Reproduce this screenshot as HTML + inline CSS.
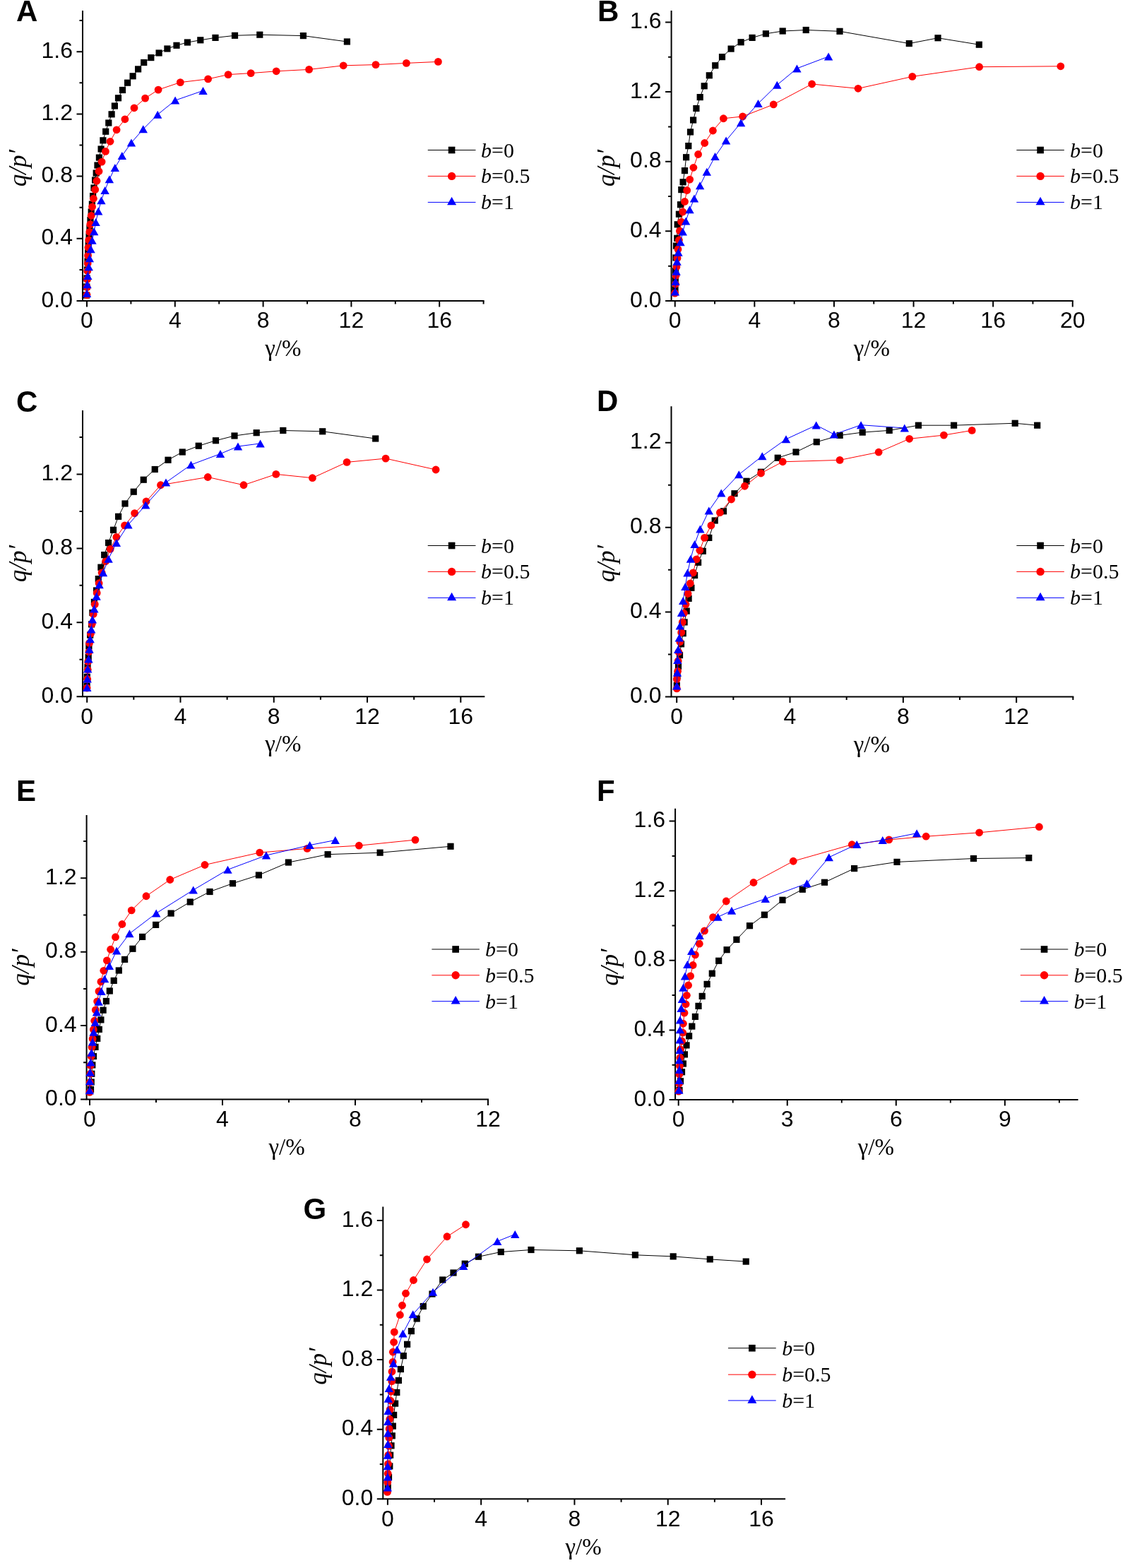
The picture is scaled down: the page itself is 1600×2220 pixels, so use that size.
<!DOCTYPE html>
<html><head><meta charset="utf-8"><title>q/p' vs shear strain</title>
<style>
html,body{margin:0;padding:0;background:#fff;}
svg{display:block;}
.tl text{font-family:"Liberation Sans",Arial,sans-serif;font-size:32px;fill:#000;}
.let{font-family:"Liberation Sans",Arial,sans-serif;font-weight:bold;font-size:42px;fill:#000;}
.yl{font-family:"Liberation Serif","Times New Roman",serif;font-style:italic;font-size:35px;fill:#000;}
.xl{font-family:"Liberation Serif","Times New Roman",serif;font-size:33px;fill:#000;}
.lg{font-family:"Liberation Serif","Times New Roman",serif;font-size:30px;fill:#000;}
</style></head>
<body>
<svg width="1600" height="2220" viewBox="0 0 1600 2220">
<rect width="1600" height="2220" fill="#fff"/>
<path d="M117 16V426H684.6" fill="none" stroke="#000" stroke-width="2" stroke-linecap="square"/>
<path d="M123 426v8.5M247.8 426v8.5M372.6 426v8.5M497.4 426v8.5M622.2 426v8.5M185.4 426v4.5M310.2 426v4.5M435 426v4.5M559.8 426v4.5M684.6 426v4.5M117 426h-8.5M117 337.8h-8.5M117 249.6h-8.5M117 161.4h-8.5M117 73.2h-8.5M117 381.9h-4.5M117 293.7h-4.5M117 205.5h-4.5M117 117.3h-4.5M117 29.1h-4.5" stroke="#000" stroke-width="2"/>
<g class="tl"><text x="123" y="464.3" text-anchor="middle">0</text><text x="247.8" y="464.3" text-anchor="middle">4</text><text x="372.6" y="464.3" text-anchor="middle">8</text><text x="497.4" y="464.3" text-anchor="middle">12</text><text x="622.2" y="464.3" text-anchor="middle">16</text><text x="103" y="434.6" text-anchor="end">0.0</text><text x="103" y="346.4" text-anchor="end">0.4</text><text x="103" y="258.2" text-anchor="end">0.8</text><text x="103" y="170" text-anchor="end">1.2</text><text x="103" y="81.8" text-anchor="end">1.6</text></g>
<text class="let" x="22.9" y="30">A</text>
<text class="yl" transform="translate(36.8 238) rotate(-90)" text-anchor="middle">q/p′</text>
<text class="xl" x="400.75" y="504.4" text-anchor="middle">γ/%</text>
<path d="M122.6 418L122.8 406L123.1 394L123.5 382L124 370L124.6 358L125.3 346L126.1 335L127 323L128 311.5L129.2 300L130.4 289L131.6 277.5L133 266L134.6 255L136.2 245L138 234L140.4 223.1L143.1 211L145.9 198.8L149.7 186.2L153.8 174L158.1 161.8L162.4 150L167.5 138.8L173.5 127.5L180.6 117.2L188.1 107.8L195.6 97.9L203.7 88.5L213.8 81.6L225.1 75L236.9 69L250 64.3L265.4 60L283.8 56.8L305 53.4L332.5 50.3L367.8 49.2L429.4 50.6L491.4 59" fill="none" stroke="#000000" stroke-width="1" stroke-linejoin="round"/>
<rect x="118" y="413.4" width="9.2" height="9.2" fill="#000000"/><rect x="118.2" y="401.4" width="9.2" height="9.2" fill="#000000"/><rect x="118.5" y="389.4" width="9.2" height="9.2" fill="#000000"/><rect x="118.9" y="377.4" width="9.2" height="9.2" fill="#000000"/><rect x="119.4" y="365.4" width="9.2" height="9.2" fill="#000000"/><rect x="120" y="353.4" width="9.2" height="9.2" fill="#000000"/><rect x="120.7" y="341.4" width="9.2" height="9.2" fill="#000000"/><rect x="121.5" y="330.4" width="9.2" height="9.2" fill="#000000"/><rect x="122.4" y="318.4" width="9.2" height="9.2" fill="#000000"/><rect x="123.4" y="306.9" width="9.2" height="9.2" fill="#000000"/><rect x="124.6" y="295.4" width="9.2" height="9.2" fill="#000000"/><rect x="125.8" y="284.4" width="9.2" height="9.2" fill="#000000"/><rect x="127" y="272.9" width="9.2" height="9.2" fill="#000000"/><rect x="128.4" y="261.4" width="9.2" height="9.2" fill="#000000"/><rect x="130" y="250.4" width="9.2" height="9.2" fill="#000000"/><rect x="131.6" y="240.4" width="9.2" height="9.2" fill="#000000"/><rect x="133.4" y="229.4" width="9.2" height="9.2" fill="#000000"/><rect x="135.8" y="218.5" width="9.2" height="9.2" fill="#000000"/><rect x="138.5" y="206.4" width="9.2" height="9.2" fill="#000000"/><rect x="141.3" y="194.2" width="9.2" height="9.2" fill="#000000"/><rect x="145.1" y="181.6" width="9.2" height="9.2" fill="#000000"/><rect x="149.2" y="169.4" width="9.2" height="9.2" fill="#000000"/><rect x="153.5" y="157.2" width="9.2" height="9.2" fill="#000000"/><rect x="157.8" y="145.4" width="9.2" height="9.2" fill="#000000"/><rect x="162.9" y="134.2" width="9.2" height="9.2" fill="#000000"/><rect x="168.9" y="122.9" width="9.2" height="9.2" fill="#000000"/><rect x="176" y="112.6" width="9.2" height="9.2" fill="#000000"/><rect x="183.5" y="103.2" width="9.2" height="9.2" fill="#000000"/><rect x="191" y="93.3" width="9.2" height="9.2" fill="#000000"/><rect x="199.1" y="83.9" width="9.2" height="9.2" fill="#000000"/><rect x="209.2" y="77" width="9.2" height="9.2" fill="#000000"/><rect x="220.5" y="70.4" width="9.2" height="9.2" fill="#000000"/><rect x="232.3" y="64.4" width="9.2" height="9.2" fill="#000000"/><rect x="245.4" y="59.7" width="9.2" height="9.2" fill="#000000"/><rect x="260.8" y="55.4" width="9.2" height="9.2" fill="#000000"/><rect x="279.2" y="52.2" width="9.2" height="9.2" fill="#000000"/><rect x="300.4" y="48.8" width="9.2" height="9.2" fill="#000000"/><rect x="327.9" y="45.7" width="9.2" height="9.2" fill="#000000"/><rect x="363.2" y="44.6" width="9.2" height="9.2" fill="#000000"/><rect x="424.8" y="46" width="9.2" height="9.2" fill="#000000"/><rect x="486.8" y="54.4" width="9.2" height="9.2" fill="#000000"/>
<path d="M123 417.6L123.2 406.8L123.5 395.4L123.8 383.5L124.2 373L124.5 361.9L124.9 350.5L125.7 340L126.8 328.4L127.8 317.6L129.25 305.3L130.6 292.8L132.4 281.25L134.7 268.4L137 256.25L140 242.5L144.1 229.1L149.4 214.4L156 200.3L165.1 183.8L176.9 168.8L190 152.8L205.6 139.1L224.1 127.1L255.3 116.6L294.6 111.9L323.1 105.6L355.2 103.6L391.2 100.8L437.6 98.4L486.2 92.8L532 91.6L575.4 89.4L620.4 87.4" fill="none" stroke="#ff0000" stroke-width="1" stroke-linejoin="round"/>
<circle cx="123" cy="417.6" r="5.4" fill="#ff0000"/><circle cx="123.2" cy="406.8" r="5.4" fill="#ff0000"/><circle cx="123.5" cy="395.4" r="5.4" fill="#ff0000"/><circle cx="123.8" cy="383.5" r="5.4" fill="#ff0000"/><circle cx="124.2" cy="373" r="5.4" fill="#ff0000"/><circle cx="124.5" cy="361.9" r="5.4" fill="#ff0000"/><circle cx="124.9" cy="350.5" r="5.4" fill="#ff0000"/><circle cx="125.7" cy="340" r="5.4" fill="#ff0000"/><circle cx="126.8" cy="328.4" r="5.4" fill="#ff0000"/><circle cx="127.8" cy="317.6" r="5.4" fill="#ff0000"/><circle cx="129.25" cy="305.3" r="5.4" fill="#ff0000"/><circle cx="130.6" cy="292.8" r="5.4" fill="#ff0000"/><circle cx="132.4" cy="281.25" r="5.4" fill="#ff0000"/><circle cx="134.7" cy="268.4" r="5.4" fill="#ff0000"/><circle cx="137" cy="256.25" r="5.4" fill="#ff0000"/><circle cx="140" cy="242.5" r="5.4" fill="#ff0000"/><circle cx="144.1" cy="229.1" r="5.4" fill="#ff0000"/><circle cx="149.4" cy="214.4" r="5.4" fill="#ff0000"/><circle cx="156" cy="200.3" r="5.4" fill="#ff0000"/><circle cx="165.1" cy="183.8" r="5.4" fill="#ff0000"/><circle cx="176.9" cy="168.8" r="5.4" fill="#ff0000"/><circle cx="190" cy="152.8" r="5.4" fill="#ff0000"/><circle cx="205.6" cy="139.1" r="5.4" fill="#ff0000"/><circle cx="224.1" cy="127.1" r="5.4" fill="#ff0000"/><circle cx="255.3" cy="116.6" r="5.4" fill="#ff0000"/><circle cx="294.6" cy="111.9" r="5.4" fill="#ff0000"/><circle cx="323.1" cy="105.6" r="5.4" fill="#ff0000"/><circle cx="355.2" cy="103.6" r="5.4" fill="#ff0000"/><circle cx="391.2" cy="100.8" r="5.4" fill="#ff0000"/><circle cx="437.6" cy="98.4" r="5.4" fill="#ff0000"/><circle cx="486.2" cy="92.8" r="5.4" fill="#ff0000"/><circle cx="532" cy="91.6" r="5.4" fill="#ff0000"/><circle cx="575.4" cy="89.4" r="5.4" fill="#ff0000"/><circle cx="620.4" cy="87.4" r="5.4" fill="#ff0000"/>
<path d="M123 415.4L123.5 402.7L124.3 390.5L125.7 377.8L126.8 365.7L128.6 352.7L130.5 340.3L133.2 327.8L135.6 314.5L139.25 299L143.4 283.75L148.6 269.4L154.9 253.75L162.8 237.5L172.8 220.5L186 202L202.75 182.8L223.2 162.2L248.1 142.1L287.5 128.4" fill="none" stroke="#0000ff" stroke-width="1" stroke-linejoin="round"/>
<path d="M123 409.9L129.2 420.9L116.8 420.9Z" fill="#0000ff"/><path d="M123.5 397.2L129.7 408.2L117.3 408.2Z" fill="#0000ff"/><path d="M124.3 385L130.5 396L118.1 396Z" fill="#0000ff"/><path d="M125.7 372.3L131.9 383.3L119.5 383.3Z" fill="#0000ff"/><path d="M126.8 360.2L133 371.2L120.6 371.2Z" fill="#0000ff"/><path d="M128.6 347.2L134.8 358.2L122.4 358.2Z" fill="#0000ff"/><path d="M130.5 334.8L136.7 345.8L124.3 345.8Z" fill="#0000ff"/><path d="M133.2 322.3L139.4 333.3L127 333.3Z" fill="#0000ff"/><path d="M135.6 309L141.8 320L129.4 320Z" fill="#0000ff"/><path d="M139.25 293.5L145.45 304.5L133.05 304.5Z" fill="#0000ff"/><path d="M143.4 278.25L149.6 289.25L137.2 289.25Z" fill="#0000ff"/><path d="M148.6 263.9L154.8 274.9L142.4 274.9Z" fill="#0000ff"/><path d="M154.9 248.25L161.1 259.25L148.7 259.25Z" fill="#0000ff"/><path d="M162.8 232L169 243L156.6 243Z" fill="#0000ff"/><path d="M172.8 215L179 226L166.6 226Z" fill="#0000ff"/><path d="M186 196.5L192.2 207.5L179.8 207.5Z" fill="#0000ff"/><path d="M202.75 177.3L208.95 188.3L196.55 188.3Z" fill="#0000ff"/><path d="M223.2 156.7L229.4 167.7L217 167.7Z" fill="#0000ff"/><path d="M248.1 136.6L254.3 147.6L241.9 147.6Z" fill="#0000ff"/><path d="M287.5 122.9L293.7 133.9L281.3 133.9Z" fill="#0000ff"/>
<path d="M605.75 212.5H673.5" stroke="#000000" stroke-width="1"/>
<rect x="634.79" y="207.67" width="9.66" height="9.66" fill="#000000"/>
<text class="lg" x="681" y="222.5"><tspan font-style="italic">b</tspan>=0</text>
<path d="M605.75 249.4H673.5" stroke="#ff0000" stroke-width="1"/>
<circle cx="639.62" cy="249.4" r="5.67" fill="#ff0000"/>
<text class="lg" x="681" y="259.4"><tspan font-style="italic">b</tspan>=0.5</text>
<path d="M605.75 286.4H673.5" stroke="#0000ff" stroke-width="1"/>
<path d="M639.62 278.7L646.13 290.25L633.12 290.25Z" fill="#0000ff"/>
<text class="lg" x="681" y="296.4"><tspan font-style="italic">b</tspan>=1</text>
<path d="M950.6 16V426H1518.75" fill="none" stroke="#000" stroke-width="2" stroke-linecap="square"/>
<path d="M955.75 426v8.5M1068.35 426v8.5M1180.95 426v8.5M1293.55 426v8.5M1406.15 426v8.5M1518.75 426v8.5M1012.05 426v4.5M1124.65 426v4.5M1237.25 426v4.5M1349.85 426v4.5M1462.45 426v4.5M950.6 426h-8.5M950.6 327.36h-8.5M950.6 228.72h-8.5M950.6 130.08h-8.5M950.6 31.44h-8.5M950.6 376.68h-4.5M950.6 278.04h-4.5M950.6 179.4h-4.5M950.6 80.76h-4.5" stroke="#000" stroke-width="2"/>
<g class="tl"><text x="955.75" y="464.3" text-anchor="middle">0</text><text x="1068.35" y="464.3" text-anchor="middle">4</text><text x="1180.95" y="464.3" text-anchor="middle">8</text><text x="1293.55" y="464.3" text-anchor="middle">12</text><text x="1406.15" y="464.3" text-anchor="middle">16</text><text x="1518.75" y="464.3" text-anchor="middle">20</text><text x="936.6" y="434.6" text-anchor="end">0.0</text><text x="936.6" y="335.96" text-anchor="end">0.4</text><text x="936.6" y="237.32" text-anchor="end">0.8</text><text x="936.6" y="138.68" text-anchor="end">1.2</text><text x="936.6" y="40.04" text-anchor="end">1.6</text></g>
<text class="let" x="846" y="30">B</text>
<text class="yl" transform="translate(870.4 238) rotate(-90)" text-anchor="middle">q/p′</text>
<text class="xl" x="1234.25" y="504.4" text-anchor="middle">γ/%</text>
<path d="M956 410L956.3 397L956.6 383.8L957 364.9L957.5 348.1L958.8 337.3L959.2 317.8L961.4 303.2L963.5 289.7L964.8 268.6L967.1 257.8L969.5 241.6L971.6 222.7L974.8 206.6L977.5 186.9L981.6 170L985.9 153.5L991.2 137.6L997.2 121.8L1004.3 106.8L1012.75 92.75L1022.5 80.6L1035.1 69.1L1049.1 59.75L1065.1 53.4L1084.4 47.75L1108.2 44L1141.2 42.5L1189 44.3L1287.3 61.6L1328 53.75L1386.3 63.2" fill="none" stroke="#000000" stroke-width="1" stroke-linejoin="round"/>
<rect x="951.4" y="405.4" width="9.2" height="9.2" fill="#000000"/><rect x="951.7" y="392.4" width="9.2" height="9.2" fill="#000000"/><rect x="952" y="379.2" width="9.2" height="9.2" fill="#000000"/><rect x="952.4" y="360.3" width="9.2" height="9.2" fill="#000000"/><rect x="952.9" y="343.5" width="9.2" height="9.2" fill="#000000"/><rect x="954.2" y="332.7" width="9.2" height="9.2" fill="#000000"/><rect x="954.6" y="313.2" width="9.2" height="9.2" fill="#000000"/><rect x="956.8" y="298.6" width="9.2" height="9.2" fill="#000000"/><rect x="958.9" y="285.1" width="9.2" height="9.2" fill="#000000"/><rect x="960.2" y="264" width="9.2" height="9.2" fill="#000000"/><rect x="962.5" y="253.2" width="9.2" height="9.2" fill="#000000"/><rect x="964.9" y="237" width="9.2" height="9.2" fill="#000000"/><rect x="967" y="218.1" width="9.2" height="9.2" fill="#000000"/><rect x="970.2" y="202" width="9.2" height="9.2" fill="#000000"/><rect x="972.9" y="182.3" width="9.2" height="9.2" fill="#000000"/><rect x="977" y="165.4" width="9.2" height="9.2" fill="#000000"/><rect x="981.3" y="148.9" width="9.2" height="9.2" fill="#000000"/><rect x="986.6" y="133" width="9.2" height="9.2" fill="#000000"/><rect x="992.6" y="117.2" width="9.2" height="9.2" fill="#000000"/><rect x="999.7" y="102.2" width="9.2" height="9.2" fill="#000000"/><rect x="1008.15" y="88.15" width="9.2" height="9.2" fill="#000000"/><rect x="1017.9" y="76" width="9.2" height="9.2" fill="#000000"/><rect x="1030.5" y="64.5" width="9.2" height="9.2" fill="#000000"/><rect x="1044.5" y="55.15" width="9.2" height="9.2" fill="#000000"/><rect x="1060.5" y="48.8" width="9.2" height="9.2" fill="#000000"/><rect x="1079.8" y="43.15" width="9.2" height="9.2" fill="#000000"/><rect x="1103.6" y="39.4" width="9.2" height="9.2" fill="#000000"/><rect x="1136.6" y="37.9" width="9.2" height="9.2" fill="#000000"/><rect x="1184.4" y="39.7" width="9.2" height="9.2" fill="#000000"/><rect x="1282.7" y="57" width="9.2" height="9.2" fill="#000000"/><rect x="1323.4" y="49.15" width="9.2" height="9.2" fill="#000000"/><rect x="1381.7" y="58.6" width="9.2" height="9.2" fill="#000000"/>
<path d="M955.7 415.1L956.5 402.2L957 390.3L957.9 377.8L959 365.4L960 353L961.4 340L962.4 327L964.6 314.05L966.8 300L969.5 285.4L972.7 269.5L976.7 254.1L981.9 237.3L988.6 218.5L997.7 202.5L1009.4 185L1024.4 167.75L1051.6 164.9L1095.25 147.9L1149.6 119L1215 125.3L1291.8 108.4L1386.6 94.7L1501.8 93.8" fill="none" stroke="#ff0000" stroke-width="1" stroke-linejoin="round"/>
<circle cx="955.7" cy="415.1" r="5.4" fill="#ff0000"/><circle cx="956.5" cy="402.2" r="5.4" fill="#ff0000"/><circle cx="957" cy="390.3" r="5.4" fill="#ff0000"/><circle cx="957.9" cy="377.8" r="5.4" fill="#ff0000"/><circle cx="959" cy="365.4" r="5.4" fill="#ff0000"/><circle cx="960" cy="353" r="5.4" fill="#ff0000"/><circle cx="961.4" cy="340" r="5.4" fill="#ff0000"/><circle cx="962.4" cy="327" r="5.4" fill="#ff0000"/><circle cx="964.6" cy="314.05" r="5.4" fill="#ff0000"/><circle cx="966.8" cy="300" r="5.4" fill="#ff0000"/><circle cx="969.5" cy="285.4" r="5.4" fill="#ff0000"/><circle cx="972.7" cy="269.5" r="5.4" fill="#ff0000"/><circle cx="976.7" cy="254.1" r="5.4" fill="#ff0000"/><circle cx="981.9" cy="237.3" r="5.4" fill="#ff0000"/><circle cx="988.6" cy="218.5" r="5.4" fill="#ff0000"/><circle cx="997.7" cy="202.5" r="5.4" fill="#ff0000"/><circle cx="1009.4" cy="185" r="5.4" fill="#ff0000"/><circle cx="1024.4" cy="167.75" r="5.4" fill="#ff0000"/><circle cx="1051.6" cy="164.9" r="5.4" fill="#ff0000"/><circle cx="1095.25" cy="147.9" r="5.4" fill="#ff0000"/><circle cx="1149.6" cy="119" r="5.4" fill="#ff0000"/><circle cx="1215" cy="125.3" r="5.4" fill="#ff0000"/><circle cx="1291.8" cy="108.4" r="5.4" fill="#ff0000"/><circle cx="1386.6" cy="94.7" r="5.4" fill="#ff0000"/><circle cx="1501.8" cy="93.8" r="5.4" fill="#ff0000"/>
<path d="M955.9 413L956.5 398.4L957.6 384.3L958.6 370.3L960.5 357.3L963.5 342.7L966.8 328.1L971.1 313L976.5 296.8L983 281.1L991.1 262.7L1000.8 243.2L1012.5 221.6L1028.1 199L1049.1 173.75L1073.5 146.6L1100.3 120.3L1128.4 96.9L1173.1 80" fill="none" stroke="#0000ff" stroke-width="1" stroke-linejoin="round"/>
<path d="M955.9 407.5L962.1 418.5L949.7 418.5Z" fill="#0000ff"/><path d="M956.5 392.9L962.7 403.9L950.3 403.9Z" fill="#0000ff"/><path d="M957.6 378.8L963.8 389.8L951.4 389.8Z" fill="#0000ff"/><path d="M958.6 364.8L964.8 375.8L952.4 375.8Z" fill="#0000ff"/><path d="M960.5 351.8L966.7 362.8L954.3 362.8Z" fill="#0000ff"/><path d="M963.5 337.2L969.7 348.2L957.3 348.2Z" fill="#0000ff"/><path d="M966.8 322.6L973 333.6L960.6 333.6Z" fill="#0000ff"/><path d="M971.1 307.5L977.3 318.5L964.9 318.5Z" fill="#0000ff"/><path d="M976.5 291.3L982.7 302.3L970.3 302.3Z" fill="#0000ff"/><path d="M983 275.6L989.2 286.6L976.8 286.6Z" fill="#0000ff"/><path d="M991.1 257.2L997.3 268.2L984.9 268.2Z" fill="#0000ff"/><path d="M1000.8 237.7L1007 248.7L994.6 248.7Z" fill="#0000ff"/><path d="M1012.5 216.1L1018.7 227.1L1006.3 227.1Z" fill="#0000ff"/><path d="M1028.1 193.5L1034.3 204.5L1021.9 204.5Z" fill="#0000ff"/><path d="M1049.1 168.25L1055.3 179.25L1042.9 179.25Z" fill="#0000ff"/><path d="M1073.5 141.1L1079.7 152.1L1067.3 152.1Z" fill="#0000ff"/><path d="M1100.3 114.8L1106.5 125.8L1094.1 125.8Z" fill="#0000ff"/><path d="M1128.4 91.4L1134.6 102.4L1122.2 102.4Z" fill="#0000ff"/><path d="M1173.1 74.5L1179.3 85.5L1166.9 85.5Z" fill="#0000ff"/>
<path d="M1439.35 212.5H1506.85" stroke="#000000" stroke-width="1"/>
<rect x="1468.27" y="207.67" width="9.66" height="9.66" fill="#000000"/>
<text class="lg" x="1515" y="222.5"><tspan font-style="italic">b</tspan>=0</text>
<path d="M1439.35 249.4H1506.85" stroke="#ff0000" stroke-width="1"/>
<circle cx="1473.1" cy="249.4" r="5.67" fill="#ff0000"/>
<text class="lg" x="1515" y="259.4"><tspan font-style="italic">b</tspan>=0.5</text>
<path d="M1439.35 286.4H1506.85" stroke="#0000ff" stroke-width="1"/>
<path d="M1473.1 278.7L1479.61 290.25L1466.59 290.25Z" fill="#0000ff"/>
<text class="lg" x="1515" y="296.4"><tspan font-style="italic">b</tspan>=1</text>
<path d="M117 582V986.3H685.39" fill="none" stroke="#000" stroke-width="2" stroke-linecap="square"/>
<path d="M123.2 986.3v8.5M255.48 986.3v8.5M387.76 986.3v8.5M520.04 986.3v8.5M652.32 986.3v8.5M189.34 986.3v4.5M321.62 986.3v4.5M453.9 986.3v4.5M586.18 986.3v4.5M117 986.3h-8.5M117 881.34h-8.5M117 776.38h-8.5M117 671.42h-8.5M117 933.82h-4.5M117 828.86h-4.5M117 723.9h-4.5M117 618.94h-4.5" stroke="#000" stroke-width="2"/>
<g class="tl"><text x="123.2" y="1024.6" text-anchor="middle">0</text><text x="255.48" y="1024.6" text-anchor="middle">4</text><text x="387.76" y="1024.6" text-anchor="middle">8</text><text x="520.04" y="1024.6" text-anchor="middle">12</text><text x="652.32" y="1024.6" text-anchor="middle">16</text><text x="103" y="994.9" text-anchor="end">0.0</text><text x="103" y="889.94" text-anchor="end">0.4</text><text x="103" y="784.98" text-anchor="end">0.8</text><text x="103" y="680.02" text-anchor="end">1.2</text></g>
<text class="let" x="23" y="582.5">C</text>
<text class="yl" transform="translate(36.8 798) rotate(-90)" text-anchor="middle">q/p′</text>
<text class="xl" x="400.75" y="1064.4" text-anchor="middle">γ/%</text>
<path d="M123.1 971L123.3 958.3L124 944.5L125.2 930.6L125.9 914.8L127.7 899.1L129.6 883.9L130.9 867.5L133.4 852.4L136.6 836L139.3 819.6L142.9 803.2L147.7 785.6L153.6 768.5L160.5 750.3L167.6 731.3L177 713L189.25 696.25L203.25 679.25L219.25 664.5L238 651.25L258.25 640L281.25 631.25L305.5 623.75L332 617L363.2 612.7L400.8 609.5L456.7 610.8L531.7 621" fill="none" stroke="#000000" stroke-width="1" stroke-linejoin="round"/>
<rect x="118.5" y="966.4" width="9.2" height="9.2" fill="#000000"/><rect x="118.7" y="953.7" width="9.2" height="9.2" fill="#000000"/><rect x="119.4" y="939.9" width="9.2" height="9.2" fill="#000000"/><rect x="120.6" y="926" width="9.2" height="9.2" fill="#000000"/><rect x="121.3" y="910.2" width="9.2" height="9.2" fill="#000000"/><rect x="123.1" y="894.5" width="9.2" height="9.2" fill="#000000"/><rect x="125" y="879.3" width="9.2" height="9.2" fill="#000000"/><rect x="126.3" y="862.9" width="9.2" height="9.2" fill="#000000"/><rect x="128.8" y="847.8" width="9.2" height="9.2" fill="#000000"/><rect x="132" y="831.4" width="9.2" height="9.2" fill="#000000"/><rect x="134.7" y="815" width="9.2" height="9.2" fill="#000000"/><rect x="138.3" y="798.6" width="9.2" height="9.2" fill="#000000"/><rect x="143.1" y="781" width="9.2" height="9.2" fill="#000000"/><rect x="149" y="763.9" width="9.2" height="9.2" fill="#000000"/><rect x="155.9" y="745.7" width="9.2" height="9.2" fill="#000000"/><rect x="163" y="726.7" width="9.2" height="9.2" fill="#000000"/><rect x="172.4" y="708.4" width="9.2" height="9.2" fill="#000000"/><rect x="184.65" y="691.65" width="9.2" height="9.2" fill="#000000"/><rect x="198.65" y="674.65" width="9.2" height="9.2" fill="#000000"/><rect x="214.65" y="659.9" width="9.2" height="9.2" fill="#000000"/><rect x="233.4" y="646.65" width="9.2" height="9.2" fill="#000000"/><rect x="253.65" y="635.4" width="9.2" height="9.2" fill="#000000"/><rect x="276.65" y="626.65" width="9.2" height="9.2" fill="#000000"/><rect x="300.9" y="619.15" width="9.2" height="9.2" fill="#000000"/><rect x="327.4" y="612.4" width="9.2" height="9.2" fill="#000000"/><rect x="358.6" y="608.1" width="9.2" height="9.2" fill="#000000"/><rect x="396.2" y="604.9" width="9.2" height="9.2" fill="#000000"/><rect x="452.1" y="606.2" width="9.2" height="9.2" fill="#000000"/><rect x="527.1" y="616.4" width="9.2" height="9.2" fill="#000000"/>
<path d="M123.1 974.1L123.7 961.5L124.2 948.25L124.6 936.9L125.9 923L126.5 910.4L128.4 897.2L130.3 883.3L132.2 869.4L134.3 855.6L137.2 839.5L140.1 825.7L144.1 810.8L149.6 794.8L156.1 777.4L164.9 760.4L176.5 744L190.6 726.6L207 710L227.5 686.75L294.25 675.5L345 686.75L390.8 671.4L442.4 676.7L491.1 654.4L546.1 649.1L617.1 665" fill="none" stroke="#ff0000" stroke-width="1" stroke-linejoin="round"/>
<circle cx="123.1" cy="974.1" r="5.4" fill="#ff0000"/><circle cx="123.7" cy="961.5" r="5.4" fill="#ff0000"/><circle cx="124.2" cy="948.25" r="5.4" fill="#ff0000"/><circle cx="124.6" cy="936.9" r="5.4" fill="#ff0000"/><circle cx="125.9" cy="923" r="5.4" fill="#ff0000"/><circle cx="126.5" cy="910.4" r="5.4" fill="#ff0000"/><circle cx="128.4" cy="897.2" r="5.4" fill="#ff0000"/><circle cx="130.3" cy="883.3" r="5.4" fill="#ff0000"/><circle cx="132.2" cy="869.4" r="5.4" fill="#ff0000"/><circle cx="134.3" cy="855.6" r="5.4" fill="#ff0000"/><circle cx="137.2" cy="839.5" r="5.4" fill="#ff0000"/><circle cx="140.1" cy="825.7" r="5.4" fill="#ff0000"/><circle cx="144.1" cy="810.8" r="5.4" fill="#ff0000"/><circle cx="149.6" cy="794.8" r="5.4" fill="#ff0000"/><circle cx="156.1" cy="777.4" r="5.4" fill="#ff0000"/><circle cx="164.9" cy="760.4" r="5.4" fill="#ff0000"/><circle cx="176.5" cy="744" r="5.4" fill="#ff0000"/><circle cx="190.6" cy="726.6" r="5.4" fill="#ff0000"/><circle cx="207" cy="710" r="5.4" fill="#ff0000"/><circle cx="227.5" cy="686.75" r="5.4" fill="#ff0000"/><circle cx="294.25" cy="675.5" r="5.4" fill="#ff0000"/><circle cx="345" cy="686.75" r="5.4" fill="#ff0000"/><circle cx="390.8" cy="671.4" r="5.4" fill="#ff0000"/><circle cx="442.4" cy="676.7" r="5.4" fill="#ff0000"/><circle cx="491.1" cy="654.4" r="5.4" fill="#ff0000"/><circle cx="546.1" cy="649.1" r="5.4" fill="#ff0000"/><circle cx="617.1" cy="665" r="5.4" fill="#ff0000"/>
<path d="M123.3 973.5L123.7 960.9L124.2 947L125.5 933.1L126.5 919.2L127.7 904.7L129.3 890.9L130.9 877L133.4 861.9L136.6 844.2L140.6 827.8L146 810.8L153.6 791.2L164.9 768.5L181.5 743L206.25 715L235 683L270.5 658L312 642.5L337 632L368.6 627.9" fill="none" stroke="#0000ff" stroke-width="1" stroke-linejoin="round"/>
<path d="M123.3 968L129.5 979L117.1 979Z" fill="#0000ff"/><path d="M123.7 955.4L129.9 966.4L117.5 966.4Z" fill="#0000ff"/><path d="M124.2 941.5L130.4 952.5L118 952.5Z" fill="#0000ff"/><path d="M125.5 927.6L131.7 938.6L119.3 938.6Z" fill="#0000ff"/><path d="M126.5 913.7L132.7 924.7L120.3 924.7Z" fill="#0000ff"/><path d="M127.7 899.2L133.9 910.2L121.5 910.2Z" fill="#0000ff"/><path d="M129.3 885.4L135.5 896.4L123.1 896.4Z" fill="#0000ff"/><path d="M130.9 871.5L137.1 882.5L124.7 882.5Z" fill="#0000ff"/><path d="M133.4 856.4L139.6 867.4L127.2 867.4Z" fill="#0000ff"/><path d="M136.6 838.7L142.8 849.7L130.4 849.7Z" fill="#0000ff"/><path d="M140.6 822.3L146.8 833.3L134.4 833.3Z" fill="#0000ff"/><path d="M146 805.3L152.2 816.3L139.8 816.3Z" fill="#0000ff"/><path d="M153.6 785.7L159.8 796.7L147.4 796.7Z" fill="#0000ff"/><path d="M164.9 763L171.1 774L158.7 774Z" fill="#0000ff"/><path d="M181.5 737.5L187.7 748.5L175.3 748.5Z" fill="#0000ff"/><path d="M206.25 709.5L212.45 720.5L200.05 720.5Z" fill="#0000ff"/><path d="M235 677.5L241.2 688.5L228.8 688.5Z" fill="#0000ff"/><path d="M270.5 652.5L276.7 663.5L264.3 663.5Z" fill="#0000ff"/><path d="M312 637L318.2 648L305.8 648Z" fill="#0000ff"/><path d="M337 626.5L343.2 637.5L330.8 637.5Z" fill="#0000ff"/><path d="M368.6 622.4L374.8 633.4L362.4 633.4Z" fill="#0000ff"/>
<path d="M605.75 772.5H673.5" stroke="#000000" stroke-width="1"/>
<rect x="634.79" y="767.67" width="9.66" height="9.66" fill="#000000"/>
<text class="lg" x="681" y="782.5"><tspan font-style="italic">b</tspan>=0</text>
<path d="M605.75 809.4H673.5" stroke="#ff0000" stroke-width="1"/>
<circle cx="639.62" cy="809.4" r="5.67" fill="#ff0000"/>
<text class="lg" x="681" y="819.4"><tspan font-style="italic">b</tspan>=0.5</text>
<path d="M605.75 846.4H673.5" stroke="#0000ff" stroke-width="1"/>
<path d="M639.62 838.7L646.13 850.25L633.12 850.25Z" fill="#0000ff"/>
<text class="lg" x="681" y="856.4"><tspan font-style="italic">b</tspan>=1</text>
<path d="M950.5 576.25V986.5H1519.32" fill="none" stroke="#000" stroke-width="2" stroke-linecap="square"/>
<path d="M958.2 986.5v8.5M1118.52 986.5v8.5M1278.84 986.5v8.5M1439.16 986.5v8.5M1038.36 986.5v4.5M1198.68 986.5v4.5M1359 986.5v4.5M1519.32 986.5v4.5M950.5 986.5h-8.5M950.5 866.62h-8.5M950.5 746.74h-8.5M950.5 626.86h-8.5M950.5 926.56h-4.5M950.5 806.68h-4.5M950.5 686.8h-4.5" stroke="#000" stroke-width="2"/>
<g class="tl"><text x="958.2" y="1024.8" text-anchor="middle">0</text><text x="1118.52" y="1024.8" text-anchor="middle">4</text><text x="1278.84" y="1024.8" text-anchor="middle">8</text><text x="1439.16" y="1024.8" text-anchor="middle">12</text><text x="936.5" y="995.1" text-anchor="end">0.0</text><text x="936.5" y="875.22" text-anchor="end">0.4</text><text x="936.5" y="755.34" text-anchor="end">0.8</text><text x="936.5" y="635.46" text-anchor="end">1.2</text></g>
<text class="let" x="845" y="582">D</text>
<text class="yl" transform="translate(870.4 798) rotate(-90)" text-anchor="middle">q/p′</text>
<text class="xl" x="1234.35" y="1064.5" text-anchor="middle">γ/%</text>
<path d="M958.3 970.5L959 957L960.5 943.3L962.5 927.6L964.5 911.8L967.2 896.7L969.1 880.9L972.2 865.1L975.1 847.4L978.9 832.3L983.6 814.6L988.6 796.3L995.3 780.3L1003.8 761.4L1012.2 737L1024.5 723.8L1040 698.75L1057 681.25L1077.5 668.25L1101.25 648.25L1127 640L1156.25 625.75L1189.1 616.4L1221.2 612.1L1259.2 609.4L1300.4 602.2L1350.6 602.2L1437.2 599.25L1468.7 602.2" fill="none" stroke="#000000" stroke-width="1" stroke-linejoin="round"/>
<rect x="953.7" y="965.9" width="9.2" height="9.2" fill="#000000"/><rect x="954.4" y="952.4" width="9.2" height="9.2" fill="#000000"/><rect x="955.9" y="938.7" width="9.2" height="9.2" fill="#000000"/><rect x="957.9" y="923" width="9.2" height="9.2" fill="#000000"/><rect x="959.9" y="907.2" width="9.2" height="9.2" fill="#000000"/><rect x="962.6" y="892.1" width="9.2" height="9.2" fill="#000000"/><rect x="964.5" y="876.3" width="9.2" height="9.2" fill="#000000"/><rect x="967.6" y="860.5" width="9.2" height="9.2" fill="#000000"/><rect x="970.5" y="842.8" width="9.2" height="9.2" fill="#000000"/><rect x="974.3" y="827.7" width="9.2" height="9.2" fill="#000000"/><rect x="979" y="810" width="9.2" height="9.2" fill="#000000"/><rect x="984" y="791.7" width="9.2" height="9.2" fill="#000000"/><rect x="990.7" y="775.7" width="9.2" height="9.2" fill="#000000"/><rect x="999.2" y="756.8" width="9.2" height="9.2" fill="#000000"/><rect x="1007.6" y="732.4" width="9.2" height="9.2" fill="#000000"/><rect x="1019.9" y="719.2" width="9.2" height="9.2" fill="#000000"/><rect x="1035.4" y="694.15" width="9.2" height="9.2" fill="#000000"/><rect x="1052.4" y="676.65" width="9.2" height="9.2" fill="#000000"/><rect x="1072.9" y="663.65" width="9.2" height="9.2" fill="#000000"/><rect x="1096.65" y="643.65" width="9.2" height="9.2" fill="#000000"/><rect x="1122.4" y="635.4" width="9.2" height="9.2" fill="#000000"/><rect x="1151.65" y="621.15" width="9.2" height="9.2" fill="#000000"/><rect x="1184.5" y="611.8" width="9.2" height="9.2" fill="#000000"/><rect x="1216.6" y="607.5" width="9.2" height="9.2" fill="#000000"/><rect x="1254.6" y="604.8" width="9.2" height="9.2" fill="#000000"/><rect x="1295.8" y="597.6" width="9.2" height="9.2" fill="#000000"/><rect x="1346" y="597.6" width="9.2" height="9.2" fill="#000000"/><rect x="1432.6" y="594.65" width="9.2" height="9.2" fill="#000000"/><rect x="1464.1" y="597.6" width="9.2" height="9.2" fill="#000000"/>
<path d="M958.3 974.9L958.3 961.6L959.6 950.3L960.2 935.8L960.9 923.2L962.8 908.6L964.7 895.4L966.3 880.9L968.4 868.3L971 855.6L974.1 840.5L977.3 826L981.4 810.9L986.1 791.9L990.8 779.3L997.5 761.4L1006.9 744L1019.4 725.7L1035.5 707L1054.5 688.25L1077.5 670L1108.25 653.75L1189.1 651.4L1244.1 640.2L1287.6 621.3L1336.4 616.1L1376.2 609.4" fill="none" stroke="#ff0000" stroke-width="1" stroke-linejoin="round"/>
<circle cx="958.3" cy="974.9" r="5.4" fill="#ff0000"/><circle cx="958.3" cy="961.6" r="5.4" fill="#ff0000"/><circle cx="959.6" cy="950.3" r="5.4" fill="#ff0000"/><circle cx="960.2" cy="935.8" r="5.4" fill="#ff0000"/><circle cx="960.9" cy="923.2" r="5.4" fill="#ff0000"/><circle cx="962.8" cy="908.6" r="5.4" fill="#ff0000"/><circle cx="964.7" cy="895.4" r="5.4" fill="#ff0000"/><circle cx="966.3" cy="880.9" r="5.4" fill="#ff0000"/><circle cx="968.4" cy="868.3" r="5.4" fill="#ff0000"/><circle cx="971" cy="855.6" r="5.4" fill="#ff0000"/><circle cx="974.1" cy="840.5" r="5.4" fill="#ff0000"/><circle cx="977.3" cy="826" r="5.4" fill="#ff0000"/><circle cx="981.4" cy="810.9" r="5.4" fill="#ff0000"/><circle cx="986.1" cy="791.9" r="5.4" fill="#ff0000"/><circle cx="990.8" cy="779.3" r="5.4" fill="#ff0000"/><circle cx="997.5" cy="761.4" r="5.4" fill="#ff0000"/><circle cx="1006.9" cy="744" r="5.4" fill="#ff0000"/><circle cx="1019.4" cy="725.7" r="5.4" fill="#ff0000"/><circle cx="1035.5" cy="707" r="5.4" fill="#ff0000"/><circle cx="1054.5" cy="688.25" r="5.4" fill="#ff0000"/><circle cx="1077.5" cy="670" r="5.4" fill="#ff0000"/><circle cx="1108.25" cy="653.75" r="5.4" fill="#ff0000"/><circle cx="1189.1" cy="651.4" r="5.4" fill="#ff0000"/><circle cx="1244.1" cy="640.2" r="5.4" fill="#ff0000"/><circle cx="1287.6" cy="621.3" r="5.4" fill="#ff0000"/><circle cx="1336.4" cy="616.1" r="5.4" fill="#ff0000"/><circle cx="1376.2" cy="609.4" r="5.4" fill="#ff0000"/>
<path d="M958.3 971.1L959 952.2L959.4 934.5L960.2 919.4L961.8 903L962.8 885.9L965 867.6L967.2 850.6L970.3 830.4L973.5 810.9L977.9 791.3L983.6 770.5L991.4 749L1003.8 723L1021.25 698L1046.25 671.75L1079.25 645.75L1113 621.75L1155.75 602L1181 615L1219.1 601.7L1280.8 606" fill="none" stroke="#0000ff" stroke-width="1" stroke-linejoin="round"/>
<path d="M958.3 965.6L964.5 976.6L952.1 976.6Z" fill="#0000ff"/><path d="M959 946.7L965.2 957.7L952.8 957.7Z" fill="#0000ff"/><path d="M959.4 929L965.6 940L953.2 940Z" fill="#0000ff"/><path d="M960.2 913.9L966.4 924.9L954 924.9Z" fill="#0000ff"/><path d="M961.8 897.5L968 908.5L955.6 908.5Z" fill="#0000ff"/><path d="M962.8 880.4L969 891.4L956.6 891.4Z" fill="#0000ff"/><path d="M965 862.1L971.2 873.1L958.8 873.1Z" fill="#0000ff"/><path d="M967.2 845.1L973.4 856.1L961 856.1Z" fill="#0000ff"/><path d="M970.3 824.9L976.5 835.9L964.1 835.9Z" fill="#0000ff"/><path d="M973.5 805.4L979.7 816.4L967.3 816.4Z" fill="#0000ff"/><path d="M977.9 785.8L984.1 796.8L971.7 796.8Z" fill="#0000ff"/><path d="M983.6 765L989.8 776L977.4 776Z" fill="#0000ff"/><path d="M991.4 743.5L997.6 754.5L985.2 754.5Z" fill="#0000ff"/><path d="M1003.8 717.5L1010 728.5L997.6 728.5Z" fill="#0000ff"/><path d="M1021.25 692.5L1027.45 703.5L1015.05 703.5Z" fill="#0000ff"/><path d="M1046.25 666.25L1052.45 677.25L1040.05 677.25Z" fill="#0000ff"/><path d="M1079.25 640.25L1085.45 651.25L1073.05 651.25Z" fill="#0000ff"/><path d="M1113 616.25L1119.2 627.25L1106.8 627.25Z" fill="#0000ff"/><path d="M1155.75 596.5L1161.95 607.5L1149.55 607.5Z" fill="#0000ff"/><path d="M1181 609.5L1187.2 620.5L1174.8 620.5Z" fill="#0000ff"/><path d="M1219.1 596.2L1225.3 607.2L1212.9 607.2Z" fill="#0000ff"/><path d="M1280.8 600.5L1287 611.5L1274.6 611.5Z" fill="#0000ff"/>
<path d="M1439.35 772.5H1506.85" stroke="#000000" stroke-width="1"/>
<rect x="1468.27" y="767.67" width="9.66" height="9.66" fill="#000000"/>
<text class="lg" x="1515" y="782.5"><tspan font-style="italic">b</tspan>=0</text>
<path d="M1439.35 809.4H1506.85" stroke="#ff0000" stroke-width="1"/>
<circle cx="1473.1" cy="809.4" r="5.67" fill="#ff0000"/>
<text class="lg" x="1515" y="819.4"><tspan font-style="italic">b</tspan>=0.5</text>
<path d="M1439.35 846.4H1506.85" stroke="#0000ff" stroke-width="1"/>
<path d="M1473.1 838.7L1479.61 850.25L1466.59 850.25Z" fill="#0000ff"/>
<text class="lg" x="1515" y="856.4"><tspan font-style="italic">b</tspan>=1</text>
<path d="M122.6 1155V1556.5H691" fill="none" stroke="#000" stroke-width="2" stroke-linecap="square"/>
<path d="M127 1556.5v8.5M315 1556.5v8.5M503 1556.5v8.5M691 1556.5v8.5M221 1556.5v4.5M409 1556.5v4.5M597 1556.5v4.5M122.6 1556.5h-8.5M122.6 1452.1h-8.5M122.6 1347.7h-8.5M122.6 1243.3h-8.5M122.6 1504.3h-4.5M122.6 1399.9h-4.5M122.6 1295.5h-4.5M122.6 1191.1h-4.5" stroke="#000" stroke-width="2"/>
<g class="tl"><text x="127" y="1594.8" text-anchor="middle">0</text><text x="315" y="1594.8" text-anchor="middle">4</text><text x="503" y="1594.8" text-anchor="middle">8</text><text x="691" y="1594.8" text-anchor="middle">12</text><text x="108.6" y="1565.1" text-anchor="end">0.0</text><text x="108.6" y="1460.7" text-anchor="end">0.4</text><text x="108.6" y="1356.3" text-anchor="end">0.8</text><text x="108.6" y="1251.9" text-anchor="end">1.2</text></g>
<text class="let" x="23" y="1133.75">E</text>
<text class="yl" transform="translate(41.4 1369.5) rotate(-90)" text-anchor="middle">q/p′</text>
<text class="xl" x="406.1" y="1634.5" text-anchor="middle">γ/%</text>
<path d="M128.5 1542.5L129.2 1532L129.8 1520.3L130.8 1507.9L132.5 1495.5L135 1482.4L137.7 1470.4L140.3 1457.4L142.9 1443.9L146.1 1430.2L150.4 1417.5L155.3 1403L161.2 1388.4L168.3 1374L176.6 1358.4L187.9 1343.3L201.6 1326.4L220.6 1309.4L242.1 1293.1L269.25 1277L297 1262.5L329.5 1250.75L366.4 1239L408.4 1221L464.1 1209.7L538.1 1207.2L638 1198.3" fill="none" stroke="#000000" stroke-width="1" stroke-linejoin="round"/>
<rect x="123.9" y="1537.9" width="9.2" height="9.2" fill="#000000"/><rect x="124.6" y="1527.4" width="9.2" height="9.2" fill="#000000"/><rect x="125.2" y="1515.7" width="9.2" height="9.2" fill="#000000"/><rect x="126.2" y="1503.3" width="9.2" height="9.2" fill="#000000"/><rect x="127.9" y="1490.9" width="9.2" height="9.2" fill="#000000"/><rect x="130.4" y="1477.8" width="9.2" height="9.2" fill="#000000"/><rect x="133.1" y="1465.8" width="9.2" height="9.2" fill="#000000"/><rect x="135.7" y="1452.8" width="9.2" height="9.2" fill="#000000"/><rect x="138.3" y="1439.3" width="9.2" height="9.2" fill="#000000"/><rect x="141.5" y="1425.6" width="9.2" height="9.2" fill="#000000"/><rect x="145.8" y="1412.9" width="9.2" height="9.2" fill="#000000"/><rect x="150.7" y="1398.4" width="9.2" height="9.2" fill="#000000"/><rect x="156.6" y="1383.8" width="9.2" height="9.2" fill="#000000"/><rect x="163.7" y="1369.4" width="9.2" height="9.2" fill="#000000"/><rect x="172" y="1353.8" width="9.2" height="9.2" fill="#000000"/><rect x="183.3" y="1338.7" width="9.2" height="9.2" fill="#000000"/><rect x="197" y="1321.8" width="9.2" height="9.2" fill="#000000"/><rect x="216" y="1304.8" width="9.2" height="9.2" fill="#000000"/><rect x="237.5" y="1288.5" width="9.2" height="9.2" fill="#000000"/><rect x="264.65" y="1272.4" width="9.2" height="9.2" fill="#000000"/><rect x="292.4" y="1257.9" width="9.2" height="9.2" fill="#000000"/><rect x="324.9" y="1246.15" width="9.2" height="9.2" fill="#000000"/><rect x="361.8" y="1234.4" width="9.2" height="9.2" fill="#000000"/><rect x="403.8" y="1216.4" width="9.2" height="9.2" fill="#000000"/><rect x="459.5" y="1205.1" width="9.2" height="9.2" fill="#000000"/><rect x="533.5" y="1202.6" width="9.2" height="9.2" fill="#000000"/><rect x="633.4" y="1193.7" width="9.2" height="9.2" fill="#000000"/>
<path d="M126.9 1546.4L127.2 1532.7L127.9 1520.3L128.2 1508.5L129.2 1495.5L130.1 1482.4L131.1 1470.7L132.4 1457.6L133.7 1445.2L135.3 1429.9L137.65 1417.8L140 1403.4L142.9 1390L146.8 1374.3L151.4 1359.9L156.6 1344.25L163.5 1326.75L172.9 1308.5L186.2 1288.9L207 1268.75L240.75 1245.5L290 1224.5L367.7 1207.1L435 1201.4L508.3 1197.2L588 1189.1" fill="none" stroke="#ff0000" stroke-width="1" stroke-linejoin="round"/>
<circle cx="126.9" cy="1546.4" r="5.4" fill="#ff0000"/><circle cx="127.2" cy="1532.7" r="5.4" fill="#ff0000"/><circle cx="127.9" cy="1520.3" r="5.4" fill="#ff0000"/><circle cx="128.2" cy="1508.5" r="5.4" fill="#ff0000"/><circle cx="129.2" cy="1495.5" r="5.4" fill="#ff0000"/><circle cx="130.1" cy="1482.4" r="5.4" fill="#ff0000"/><circle cx="131.1" cy="1470.7" r="5.4" fill="#ff0000"/><circle cx="132.4" cy="1457.6" r="5.4" fill="#ff0000"/><circle cx="133.7" cy="1445.2" r="5.4" fill="#ff0000"/><circle cx="135.3" cy="1429.9" r="5.4" fill="#ff0000"/><circle cx="137.65" cy="1417.8" r="5.4" fill="#ff0000"/><circle cx="140" cy="1403.4" r="5.4" fill="#ff0000"/><circle cx="142.9" cy="1390" r="5.4" fill="#ff0000"/><circle cx="146.8" cy="1374.3" r="5.4" fill="#ff0000"/><circle cx="151.4" cy="1359.9" r="5.4" fill="#ff0000"/><circle cx="156.6" cy="1344.25" r="5.4" fill="#ff0000"/><circle cx="163.5" cy="1326.75" r="5.4" fill="#ff0000"/><circle cx="172.9" cy="1308.5" r="5.4" fill="#ff0000"/><circle cx="186.2" cy="1288.9" r="5.4" fill="#ff0000"/><circle cx="207" cy="1268.75" r="5.4" fill="#ff0000"/><circle cx="240.75" cy="1245.5" r="5.4" fill="#ff0000"/><circle cx="290" cy="1224.5" r="5.4" fill="#ff0000"/><circle cx="367.7" cy="1207.1" r="5.4" fill="#ff0000"/><circle cx="435" cy="1201.4" r="5.4" fill="#ff0000"/><circle cx="508.3" cy="1197.2" r="5.4" fill="#ff0000"/><circle cx="588" cy="1189.1" r="5.4" fill="#ff0000"/>
<path d="M126.9 1543.8L127.2 1530.75L127.6 1518.3L128.5 1504L129.6 1490.3L131.1 1475.3L132.6 1461.2L134.8 1447.5L137 1433.1L139.6 1418.3L143.5 1403.4L148.1 1385.8L154.9 1367.5L165.1 1346L183.4 1321.8L221.2 1293L273.75 1260L322.5 1231.25L377 1211L438.6 1196.6L474.75 1189.5" fill="none" stroke="#0000ff" stroke-width="1" stroke-linejoin="round"/>
<path d="M126.9 1538.3L133.1 1549.3L120.7 1549.3Z" fill="#0000ff"/><path d="M127.2 1525.25L133.4 1536.25L121 1536.25Z" fill="#0000ff"/><path d="M127.6 1512.8L133.8 1523.8L121.4 1523.8Z" fill="#0000ff"/><path d="M128.5 1498.5L134.7 1509.5L122.3 1509.5Z" fill="#0000ff"/><path d="M129.6 1484.8L135.8 1495.8L123.4 1495.8Z" fill="#0000ff"/><path d="M131.1 1469.8L137.3 1480.8L124.9 1480.8Z" fill="#0000ff"/><path d="M132.6 1455.7L138.8 1466.7L126.4 1466.7Z" fill="#0000ff"/><path d="M134.8 1442L141 1453L128.6 1453Z" fill="#0000ff"/><path d="M137 1427.6L143.2 1438.6L130.8 1438.6Z" fill="#0000ff"/><path d="M139.6 1412.8L145.8 1423.8L133.4 1423.8Z" fill="#0000ff"/><path d="M143.5 1397.9L149.7 1408.9L137.3 1408.9Z" fill="#0000ff"/><path d="M148.1 1380.3L154.3 1391.3L141.9 1391.3Z" fill="#0000ff"/><path d="M154.9 1362L161.1 1373L148.7 1373Z" fill="#0000ff"/><path d="M165.1 1340.5L171.3 1351.5L158.9 1351.5Z" fill="#0000ff"/><path d="M183.4 1316.3L189.6 1327.3L177.2 1327.3Z" fill="#0000ff"/><path d="M221.2 1287.5L227.4 1298.5L215 1298.5Z" fill="#0000ff"/><path d="M273.75 1254.5L279.95 1265.5L267.55 1265.5Z" fill="#0000ff"/><path d="M322.5 1225.75L328.7 1236.75L316.3 1236.75Z" fill="#0000ff"/><path d="M377 1205.5L383.2 1216.5L370.8 1216.5Z" fill="#0000ff"/><path d="M438.6 1191.1L444.8 1202.1L432.4 1202.1Z" fill="#0000ff"/><path d="M474.75 1184L480.95 1195L468.55 1195Z" fill="#0000ff"/>
<path d="M611.4 1344H678.9" stroke="#000000" stroke-width="1"/>
<rect x="640.32" y="1339.17" width="9.66" height="9.66" fill="#000000"/>
<text class="lg" x="687" y="1354"><tspan font-style="italic">b</tspan>=0</text>
<path d="M611.4 1380.75H678.9" stroke="#ff0000" stroke-width="1"/>
<circle cx="645.15" cy="1380.75" r="5.67" fill="#ff0000"/>
<text class="lg" x="687" y="1390.75"><tspan font-style="italic">b</tspan>=0.5</text>
<path d="M611.4 1417.65H678.9" stroke="#0000ff" stroke-width="1"/>
<path d="M645.15 1409.95L651.66 1421.5L638.64 1421.5Z" fill="#0000ff"/>
<text class="lg" x="687" y="1427.65"><tspan font-style="italic">b</tspan>=1</text>
<path d="M956.1 1145.75V1557H1525.55" fill="none" stroke="#000" stroke-width="2" stroke-linecap="square"/>
<path d="M960.7 1557v8.5M1114.75 1557v8.5M1268.8 1557v8.5M1422.85 1557v8.5M1037.73 1557v4.5M1191.78 1557v4.5M1345.83 1557v4.5M1499.88 1557v4.5M956.1 1557h-8.5M956.1 1458.4h-8.5M956.1 1359.8h-8.5M956.1 1261.2h-8.5M956.1 1162.6h-8.5M956.1 1507.7h-4.5M956.1 1409.1h-4.5M956.1 1310.5h-4.5M956.1 1211.9h-4.5" stroke="#000" stroke-width="2"/>
<g class="tl"><text x="960.7" y="1595.3" text-anchor="middle">0</text><text x="1114.75" y="1595.3" text-anchor="middle">3</text><text x="1268.8" y="1595.3" text-anchor="middle">6</text><text x="1422.85" y="1595.3" text-anchor="middle">9</text><text x="942.1" y="1565.6" text-anchor="end">0.0</text><text x="942.1" y="1467" text-anchor="end">0.4</text><text x="942.1" y="1368.4" text-anchor="end">0.8</text><text x="942.1" y="1269.8" text-anchor="end">1.2</text><text x="942.1" y="1171.2" text-anchor="end">1.6</text></g>
<text class="let" x="845" y="1133.75">F</text>
<text class="yl" transform="translate(874.8 1369.5) rotate(-90)" text-anchor="middle">q/p′</text>
<text class="xl" x="1240.3" y="1634.5" text-anchor="middle">γ/%</text>
<path d="M962 1543.5L963.5 1530.8L965.5 1517.75L967.4 1506L969.4 1492.9L972 1479.9L975.6 1466.8L979.8 1453.1L984.4 1439.4L989 1424.35L994.2 1410.4L1001.1 1393.4L1008.3 1378.2L1017.7 1360.3L1029.1 1344.7L1042.9 1330.3L1061.5 1310.7L1082.4 1295.2L1108 1274.25L1136.25 1259.25L1167.5 1249.25L1209.6 1229.6L1270 1220.4L1378.5 1215.5L1456.75 1214.6" fill="none" stroke="#000000" stroke-width="1" stroke-linejoin="round"/>
<rect x="957.4" y="1538.9" width="9.2" height="9.2" fill="#000000"/><rect x="958.9" y="1526.2" width="9.2" height="9.2" fill="#000000"/><rect x="960.9" y="1513.15" width="9.2" height="9.2" fill="#000000"/><rect x="962.8" y="1501.4" width="9.2" height="9.2" fill="#000000"/><rect x="964.8" y="1488.3" width="9.2" height="9.2" fill="#000000"/><rect x="967.4" y="1475.3" width="9.2" height="9.2" fill="#000000"/><rect x="971" y="1462.2" width="9.2" height="9.2" fill="#000000"/><rect x="975.2" y="1448.5" width="9.2" height="9.2" fill="#000000"/><rect x="979.8" y="1434.8" width="9.2" height="9.2" fill="#000000"/><rect x="984.4" y="1419.75" width="9.2" height="9.2" fill="#000000"/><rect x="989.6" y="1405.8" width="9.2" height="9.2" fill="#000000"/><rect x="996.5" y="1388.8" width="9.2" height="9.2" fill="#000000"/><rect x="1003.7" y="1373.6" width="9.2" height="9.2" fill="#000000"/><rect x="1013.1" y="1355.7" width="9.2" height="9.2" fill="#000000"/><rect x="1024.5" y="1340.1" width="9.2" height="9.2" fill="#000000"/><rect x="1038.3" y="1325.7" width="9.2" height="9.2" fill="#000000"/><rect x="1056.9" y="1306.1" width="9.2" height="9.2" fill="#000000"/><rect x="1077.8" y="1290.6" width="9.2" height="9.2" fill="#000000"/><rect x="1103.4" y="1269.65" width="9.2" height="9.2" fill="#000000"/><rect x="1131.65" y="1254.65" width="9.2" height="9.2" fill="#000000"/><rect x="1162.9" y="1244.65" width="9.2" height="9.2" fill="#000000"/><rect x="1205" y="1225" width="9.2" height="9.2" fill="#000000"/><rect x="1265.4" y="1215.8" width="9.2" height="9.2" fill="#000000"/><rect x="1373.9" y="1210.9" width="9.2" height="9.2" fill="#000000"/><rect x="1452.15" y="1210" width="9.2" height="9.2" fill="#000000"/>
<path d="M960.9 1545.2L961.6 1534.1L961.9 1521L962.5 1509.3L962.9 1497.5L963.5 1485.75L965.5 1474L966.8 1462.2L967.4 1449.2L969 1434.15L971.1 1421.7L972.4 1409.3L974.6 1395L977.6 1381.9L981.15 1366.5L984.4 1351.85L990.3 1336.2L997.5 1317.9L1009.6 1298.6L1028.25 1276L1067 1249.5L1123.25 1219.25L1206.3 1195.7L1258.75 1188.9L1311.2 1184.2L1386.6 1178.8L1471.4 1170.7" fill="none" stroke="#ff0000" stroke-width="1" stroke-linejoin="round"/>
<circle cx="960.9" cy="1545.2" r="5.4" fill="#ff0000"/><circle cx="961.6" cy="1534.1" r="5.4" fill="#ff0000"/><circle cx="961.9" cy="1521" r="5.4" fill="#ff0000"/><circle cx="962.5" cy="1509.3" r="5.4" fill="#ff0000"/><circle cx="962.9" cy="1497.5" r="5.4" fill="#ff0000"/><circle cx="963.5" cy="1485.75" r="5.4" fill="#ff0000"/><circle cx="965.5" cy="1474" r="5.4" fill="#ff0000"/><circle cx="966.8" cy="1462.2" r="5.4" fill="#ff0000"/><circle cx="967.4" cy="1449.2" r="5.4" fill="#ff0000"/><circle cx="969" cy="1434.15" r="5.4" fill="#ff0000"/><circle cx="971.1" cy="1421.7" r="5.4" fill="#ff0000"/><circle cx="972.4" cy="1409.3" r="5.4" fill="#ff0000"/><circle cx="974.6" cy="1395" r="5.4" fill="#ff0000"/><circle cx="977.6" cy="1381.9" r="5.4" fill="#ff0000"/><circle cx="981.15" cy="1366.5" r="5.4" fill="#ff0000"/><circle cx="984.4" cy="1351.85" r="5.4" fill="#ff0000"/><circle cx="990.3" cy="1336.2" r="5.4" fill="#ff0000"/><circle cx="997.5" cy="1317.9" r="5.4" fill="#ff0000"/><circle cx="1009.6" cy="1298.6" r="5.4" fill="#ff0000"/><circle cx="1028.25" cy="1276" r="5.4" fill="#ff0000"/><circle cx="1067" cy="1249.5" r="5.4" fill="#ff0000"/><circle cx="1123.25" cy="1219.25" r="5.4" fill="#ff0000"/><circle cx="1206.3" cy="1195.7" r="5.4" fill="#ff0000"/><circle cx="1258.75" cy="1188.9" r="5.4" fill="#ff0000"/><circle cx="1311.2" cy="1184.2" r="5.4" fill="#ff0000"/><circle cx="1386.6" cy="1178.8" r="5.4" fill="#ff0000"/><circle cx="1471.4" cy="1170.7" r="5.4" fill="#ff0000"/>
<path d="M961.3 1543.2L961.6 1529.5L961.9 1514.5L961.9 1500.8L962.5 1486.4L962.5 1472L962.9 1457.7L962.9 1443.95L964.6 1427.6L965.9 1414.55L967.4 1398.2L970 1381.9L973.3 1365.6L979.2 1346.6L990.6 1324.4L1016.6 1298.2L1036 1289.3L1083.75 1272.5L1142.5 1250.75L1173.75 1213.75L1213.2 1195.4L1249.75 1189.4L1298.1 1179.7" fill="none" stroke="#0000ff" stroke-width="1" stroke-linejoin="round"/>
<path d="M961.3 1537.7L967.5 1548.7L955.1 1548.7Z" fill="#0000ff"/><path d="M961.6 1524L967.8 1535L955.4 1535Z" fill="#0000ff"/><path d="M961.9 1509L968.1 1520L955.7 1520Z" fill="#0000ff"/><path d="M961.9 1495.3L968.1 1506.3L955.7 1506.3Z" fill="#0000ff"/><path d="M962.5 1480.9L968.7 1491.9L956.3 1491.9Z" fill="#0000ff"/><path d="M962.5 1466.5L968.7 1477.5L956.3 1477.5Z" fill="#0000ff"/><path d="M962.9 1452.2L969.1 1463.2L956.7 1463.2Z" fill="#0000ff"/><path d="M962.9 1438.45L969.1 1449.45L956.7 1449.45Z" fill="#0000ff"/><path d="M964.6 1422.1L970.8 1433.1L958.4 1433.1Z" fill="#0000ff"/><path d="M965.9 1409.05L972.1 1420.05L959.7 1420.05Z" fill="#0000ff"/><path d="M967.4 1392.7L973.6 1403.7L961.2 1403.7Z" fill="#0000ff"/><path d="M970 1376.4L976.2 1387.4L963.8 1387.4Z" fill="#0000ff"/><path d="M973.3 1360.1L979.5 1371.1L967.1 1371.1Z" fill="#0000ff"/><path d="M979.2 1341.1L985.4 1352.1L973 1352.1Z" fill="#0000ff"/><path d="M990.6 1318.9L996.8 1329.9L984.4 1329.9Z" fill="#0000ff"/><path d="M1016.6 1292.7L1022.8 1303.7L1010.4 1303.7Z" fill="#0000ff"/><path d="M1036 1283.8L1042.2 1294.8L1029.8 1294.8Z" fill="#0000ff"/><path d="M1083.75 1267L1089.95 1278L1077.55 1278Z" fill="#0000ff"/><path d="M1142.5 1245.25L1148.7 1256.25L1136.3 1256.25Z" fill="#0000ff"/><path d="M1173.75 1208.25L1179.95 1219.25L1167.55 1219.25Z" fill="#0000ff"/><path d="M1213.2 1189.9L1219.4 1200.9L1207 1200.9Z" fill="#0000ff"/><path d="M1249.75 1183.9L1255.95 1194.9L1243.55 1194.9Z" fill="#0000ff"/><path d="M1298.1 1174.2L1304.3 1185.2L1291.9 1185.2Z" fill="#0000ff"/>
<path d="M1444.8 1344H1512.3" stroke="#000000" stroke-width="1"/>
<rect x="1473.72" y="1339.17" width="9.66" height="9.66" fill="#000000"/>
<text class="lg" x="1520.4" y="1354"><tspan font-style="italic">b</tspan>=0</text>
<path d="M1444.8 1380.75H1512.3" stroke="#ff0000" stroke-width="1"/>
<circle cx="1478.55" cy="1380.75" r="5.67" fill="#ff0000"/>
<text class="lg" x="1520.4" y="1390.75"><tspan font-style="italic">b</tspan>=0.5</text>
<path d="M1444.8 1417.65H1512.3" stroke="#0000ff" stroke-width="1"/>
<path d="M1478.55 1409.95L1485.06 1421.5L1472.04 1421.5Z" fill="#0000ff"/>
<text class="lg" x="1520.4" y="1427.65"><tspan font-style="italic">b</tspan>=1</text>
<path d="M542.3 1709.5V2122.3H1111.09" fill="none" stroke="#000" stroke-width="2" stroke-linecap="square"/>
<path d="M548.9 2122.3v8.5M681.18 2122.3v8.5M813.46 2122.3v8.5M945.74 2122.3v8.5M1078.02 2122.3v8.5M615.04 2122.3v4.5M747.32 2122.3v4.5M879.6 2122.3v4.5M1011.88 2122.3v4.5M542.3 2122.3h-8.5M542.3 2023.7h-8.5M542.3 1925.1h-8.5M542.3 1826.5h-8.5M542.3 1727.9h-8.5M542.3 2073h-4.5M542.3 1974.4h-4.5M542.3 1875.8h-4.5M542.3 1777.2h-4.5" stroke="#000" stroke-width="2"/>
<g class="tl"><text x="548.9" y="2160.6" text-anchor="middle">0</text><text x="681.18" y="2160.6" text-anchor="middle">4</text><text x="813.46" y="2160.6" text-anchor="middle">8</text><text x="945.74" y="2160.6" text-anchor="middle">12</text><text x="1078.02" y="2160.6" text-anchor="middle">16</text><text x="528.3" y="2130.9" text-anchor="end">0.0</text><text x="528.3" y="2032.3" text-anchor="end">0.4</text><text x="528.3" y="1933.7" text-anchor="end">0.8</text><text x="528.3" y="1835.1" text-anchor="end">1.2</text><text x="528.3" y="1736.5" text-anchor="end">1.6</text></g>
<text class="let" x="429.5" y="1725.5">G</text>
<text class="yl" transform="translate(461.9 1934.5) rotate(-90)" text-anchor="middle">q/p′</text>
<text class="xl" x="826.1" y="2200.6" text-anchor="middle">γ/%</text>
<path d="M549.2 2105.9L550.5 2091.5L551.8 2075.85L552.6 2060.2L554 2046.8L555.3 2032.8L556.3 2019.1L557.6 2003.4L559.6 1987.1L561.8 1971.4L564.4 1954.4L567.4 1938.5L571.3 1919.6L576.6 1903.3L582.4 1884.6L590.2 1867L599.3 1849.5L612 1832L626.75 1812L642 1802L658.25 1789.25L677.5 1779.25L709.25 1772.5L752 1769.5L820.4 1770.8L899.4 1776.8L953.2 1778.9L1005.25 1782.9L1056.25 1786.1" fill="none" stroke="#000000" stroke-width="1" stroke-linejoin="round"/>
<rect x="544.6" y="2101.3" width="9.2" height="9.2" fill="#000000"/><rect x="545.9" y="2086.9" width="9.2" height="9.2" fill="#000000"/><rect x="547.2" y="2071.25" width="9.2" height="9.2" fill="#000000"/><rect x="548" y="2055.6" width="9.2" height="9.2" fill="#000000"/><rect x="549.4" y="2042.2" width="9.2" height="9.2" fill="#000000"/><rect x="550.7" y="2028.2" width="9.2" height="9.2" fill="#000000"/><rect x="551.7" y="2014.5" width="9.2" height="9.2" fill="#000000"/><rect x="553" y="1998.8" width="9.2" height="9.2" fill="#000000"/><rect x="555" y="1982.5" width="9.2" height="9.2" fill="#000000"/><rect x="557.2" y="1966.8" width="9.2" height="9.2" fill="#000000"/><rect x="559.8" y="1949.8" width="9.2" height="9.2" fill="#000000"/><rect x="562.8" y="1933.9" width="9.2" height="9.2" fill="#000000"/><rect x="566.7" y="1915" width="9.2" height="9.2" fill="#000000"/><rect x="572" y="1898.7" width="9.2" height="9.2" fill="#000000"/><rect x="577.8" y="1880" width="9.2" height="9.2" fill="#000000"/><rect x="585.6" y="1862.4" width="9.2" height="9.2" fill="#000000"/><rect x="594.7" y="1844.9" width="9.2" height="9.2" fill="#000000"/><rect x="607.4" y="1827.4" width="9.2" height="9.2" fill="#000000"/><rect x="622.15" y="1807.4" width="9.2" height="9.2" fill="#000000"/><rect x="637.4" y="1797.4" width="9.2" height="9.2" fill="#000000"/><rect x="653.65" y="1784.65" width="9.2" height="9.2" fill="#000000"/><rect x="672.9" y="1774.65" width="9.2" height="9.2" fill="#000000"/><rect x="704.65" y="1767.9" width="9.2" height="9.2" fill="#000000"/><rect x="747.4" y="1764.9" width="9.2" height="9.2" fill="#000000"/><rect x="815.8" y="1766.2" width="9.2" height="9.2" fill="#000000"/><rect x="894.8" y="1772.2" width="9.2" height="9.2" fill="#000000"/><rect x="948.6" y="1774.3" width="9.2" height="9.2" fill="#000000"/><rect x="1000.65" y="1778.3" width="9.2" height="9.2" fill="#000000"/><rect x="1051.65" y="1781.5" width="9.2" height="9.2" fill="#000000"/>
<path d="M548.5 2112.4L548.8 2098.7L549.2 2086.3L549.5 2072.6L549.8 2060.2L550.5 2047.1L550.8 2035.4L551.1 2023L551.8 2009.3L552.2 1995.6L553.1 1983.2L553.7 1970.1L554.8 1955.7L555 1942L556.1 1928.3L556.3 1914.2L557.6 1900.3L558.3 1885.9L566.4 1861.7L569.5 1848.25L574.5 1831.25L585.5 1812.5L604.5 1783L633 1750.75L659.5 1733.75" fill="none" stroke="#ff0000" stroke-width="1" stroke-linejoin="round"/>
<circle cx="548.5" cy="2112.4" r="5.4" fill="#ff0000"/><circle cx="548.8" cy="2098.7" r="5.4" fill="#ff0000"/><circle cx="549.2" cy="2086.3" r="5.4" fill="#ff0000"/><circle cx="549.5" cy="2072.6" r="5.4" fill="#ff0000"/><circle cx="549.8" cy="2060.2" r="5.4" fill="#ff0000"/><circle cx="550.5" cy="2047.1" r="5.4" fill="#ff0000"/><circle cx="550.8" cy="2035.4" r="5.4" fill="#ff0000"/><circle cx="551.1" cy="2023" r="5.4" fill="#ff0000"/><circle cx="551.8" cy="2009.3" r="5.4" fill="#ff0000"/><circle cx="552.2" cy="1995.6" r="5.4" fill="#ff0000"/><circle cx="553.1" cy="1983.2" r="5.4" fill="#ff0000"/><circle cx="553.7" cy="1970.1" r="5.4" fill="#ff0000"/><circle cx="554.8" cy="1955.7" r="5.4" fill="#ff0000"/><circle cx="555" cy="1942" r="5.4" fill="#ff0000"/><circle cx="556.1" cy="1928.3" r="5.4" fill="#ff0000"/><circle cx="556.3" cy="1914.2" r="5.4" fill="#ff0000"/><circle cx="557.6" cy="1900.3" r="5.4" fill="#ff0000"/><circle cx="558.3" cy="1885.9" r="5.4" fill="#ff0000"/><circle cx="566.4" cy="1861.7" r="5.4" fill="#ff0000"/><circle cx="569.5" cy="1848.25" r="5.4" fill="#ff0000"/><circle cx="574.5" cy="1831.25" r="5.4" fill="#ff0000"/><circle cx="585.5" cy="1812.5" r="5.4" fill="#ff0000"/><circle cx="604.5" cy="1783" r="5.4" fill="#ff0000"/><circle cx="633" cy="1750.75" r="5.4" fill="#ff0000"/><circle cx="659.5" cy="1733.75" r="5.4" fill="#ff0000"/>
<path d="M548.8 2105.9L548.9 2090.9L548.9 2075.85L548.9 2060.2L549.2 2044.5L549.2 2028.9L549.2 2012.5L549.5 1997.5L549.8 1980.3L550.8 1965.5L553.1 1949.2L557 1930.3L562.2 1910.7L570.4 1887.9L584.7 1860.8L613 1829.25L656.25 1792.5L704.25 1757.5L729.25 1747.5" fill="none" stroke="#0000ff" stroke-width="1" stroke-linejoin="round"/>
<path d="M548.8 2100.4L555 2111.4L542.6 2111.4Z" fill="#0000ff"/><path d="M548.9 2085.4L555.1 2096.4L542.7 2096.4Z" fill="#0000ff"/><path d="M548.9 2070.35L555.1 2081.35L542.7 2081.35Z" fill="#0000ff"/><path d="M548.9 2054.7L555.1 2065.7L542.7 2065.7Z" fill="#0000ff"/><path d="M549.2 2039L555.4 2050L543 2050Z" fill="#0000ff"/><path d="M549.2 2023.4L555.4 2034.4L543 2034.4Z" fill="#0000ff"/><path d="M549.2 2007L555.4 2018L543 2018Z" fill="#0000ff"/><path d="M549.5 1992L555.7 2003L543.3 2003Z" fill="#0000ff"/><path d="M549.8 1974.8L556 1985.8L543.6 1985.8Z" fill="#0000ff"/><path d="M550.8 1960L557 1971L544.6 1971Z" fill="#0000ff"/><path d="M553.1 1943.7L559.3 1954.7L546.9 1954.7Z" fill="#0000ff"/><path d="M557 1924.8L563.2 1935.8L550.8 1935.8Z" fill="#0000ff"/><path d="M562.2 1905.2L568.4 1916.2L556 1916.2Z" fill="#0000ff"/><path d="M570.4 1882.4L576.6 1893.4L564.2 1893.4Z" fill="#0000ff"/><path d="M584.7 1855.3L590.9 1866.3L578.5 1866.3Z" fill="#0000ff"/><path d="M613 1823.75L619.2 1834.75L606.8 1834.75Z" fill="#0000ff"/><path d="M656.25 1787L662.45 1798L650.05 1798Z" fill="#0000ff"/><path d="M704.25 1752L710.45 1763L698.05 1763Z" fill="#0000ff"/><path d="M729.25 1742L735.45 1753L723.05 1753Z" fill="#0000ff"/>
<path d="M1031 1908.7H1098.75" stroke="#000000" stroke-width="1"/>
<rect x="1060.05" y="1903.87" width="9.66" height="9.66" fill="#000000"/>
<text class="lg" x="1107.2" y="1918.7"><tspan font-style="italic">b</tspan>=0</text>
<path d="M1031 1946.15H1098.75" stroke="#ff0000" stroke-width="1"/>
<circle cx="1064.88" cy="1946.15" r="5.67" fill="#ff0000"/>
<text class="lg" x="1107.2" y="1956.15"><tspan font-style="italic">b</tspan>=0.5</text>
<path d="M1031 1982.9H1098.75" stroke="#0000ff" stroke-width="1"/>
<path d="M1064.88 1975.2L1071.38 1986.75L1058.37 1986.75Z" fill="#0000ff"/>
<text class="lg" x="1107.2" y="1992.9"><tspan font-style="italic">b</tspan>=1</text>
</svg>
</body></html>
